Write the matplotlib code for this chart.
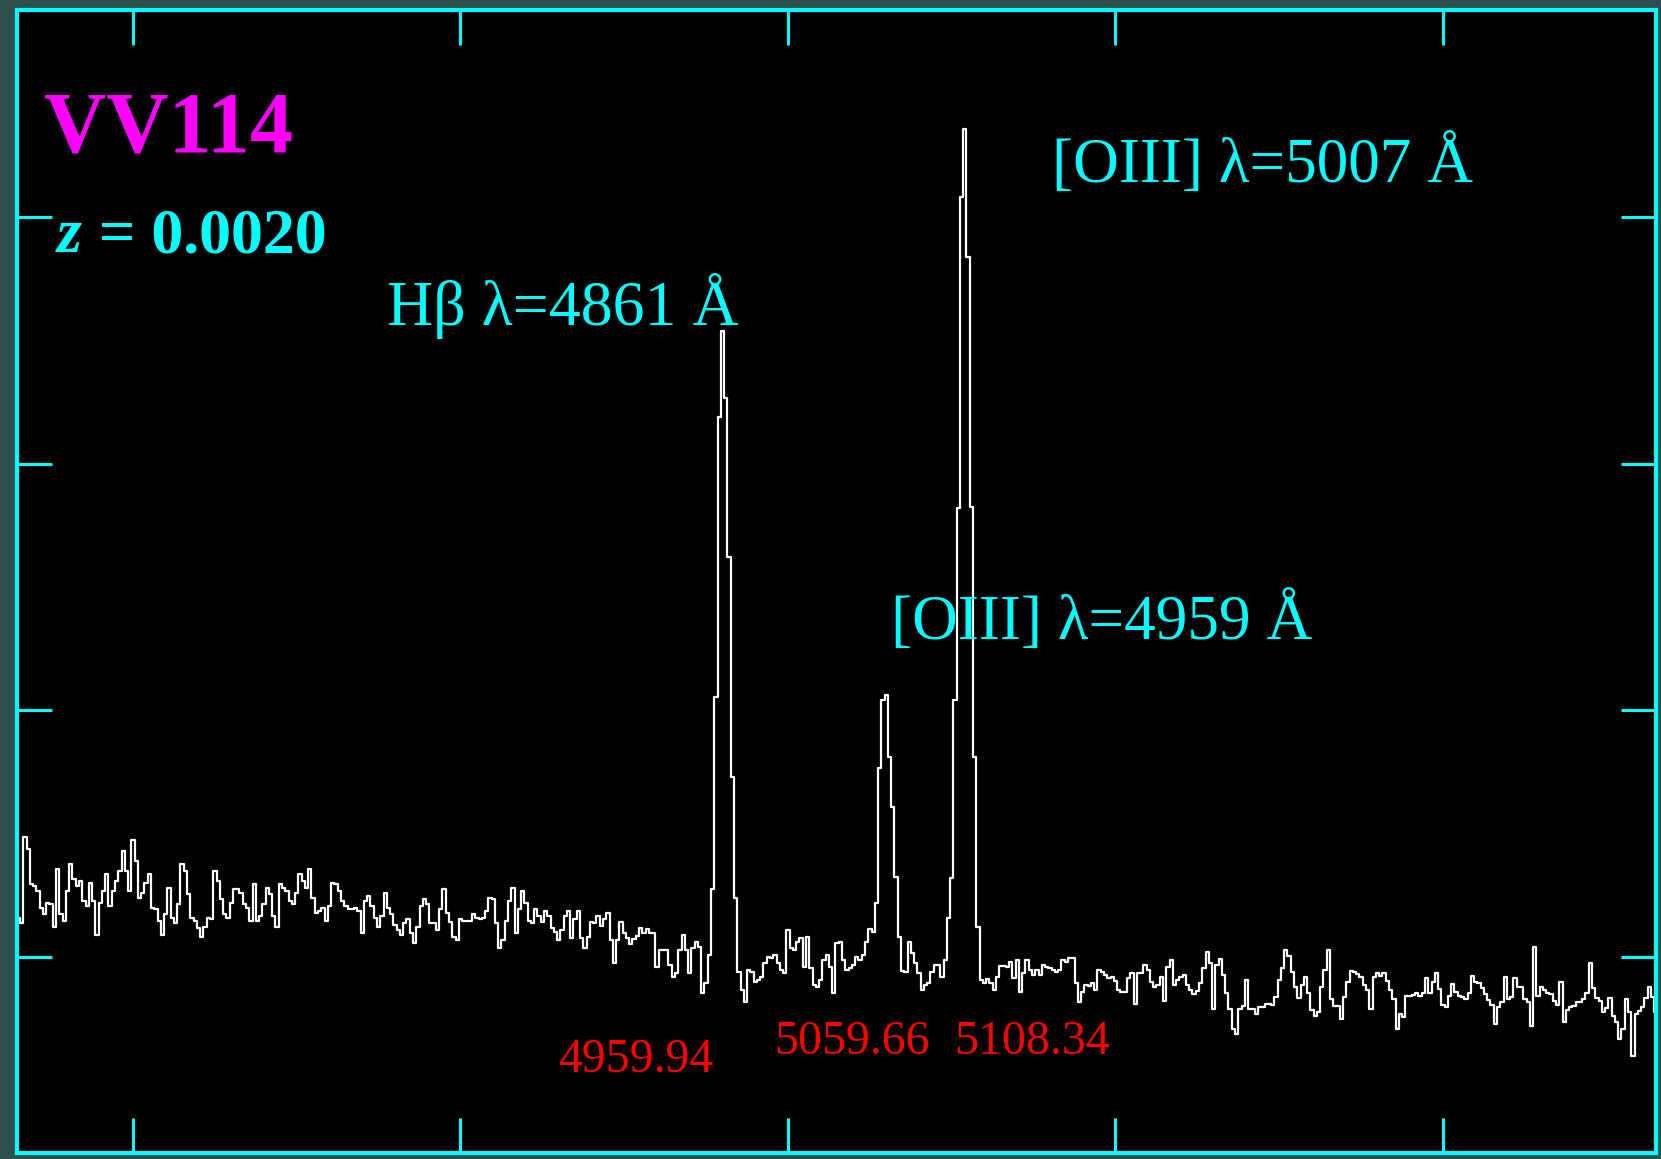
import numpy as np
import matplotlib.pyplot as plt

# dispersion solution of the extracted spectrum
wave_start = 4530.0   # Angstrom
wave_step = 2.0       # Angstrom per pixel

# flux (arbitrary units), split by spectral region
flux_blue = [
    40, 34, 122, 109, 74, 72, 67, 50, 44, 55,
    54, 30, 89, 44, 37, 67, 94, 79, 72, 77,
    57, 52, 75, 57, 22, 55, 67, 84, 52, 67,
    77, 87, 107, 87, 67, 119, 97, 60, 65, 75,
    84, 50, 49, 37, 22, 44, 70, 40, 34, 54,
    94, 87, 64, 40, 37, 29, 20, 30, 40, 39,
    87, 77, 59, 44, 40, 55, 69, 69, 65, 54,
    50, 37, 74, 37, 42, 54, 70, 64, 42, 30,
    74, 70, 67, 57, 54, 65, 84, 77, 70, 89,
    60, 45, 47, 50, 37, 52, 75, 74, 67, 57,
    52, 49, 49, 50, 47, 24, 57, 62, 52, 40,
    30, 42, 65, 50, 44, 32, 27, 22, 34, 39,
    24, 14, 30, 52, 59, 54, 34, 34, 27, 49,
    69, 45, 35, 20, 17, 39, 37, 37, 37, 44,
    40, 39, 40, 47, 60, 59, 34, 9, 17, 37,
    57, 70, 24, 49, 67, 55, 37, 34, 49, 42,
    35, 47, 42, 29, 25, 17, 27, 42, 47, 19,
    39, 47, 19, 9, 20, 35, 34, 42, 31, 39,
    45, 17, -6, 17, 35, 24, 19, 13, 18, 21,
    29, 24, 28, 24, 24, -10, 7, 7, 7, -8,
    -20, -16, 7, 22, 7, -16, 9, 15, 10, -36,
    -26, 2,
]
flux_hbeta = [69, 263, 547, 634, 567, 405, 182, 60]
flux_gap1 = [
    -15, -33, -46, -13, -15, -25, -23, -20, -6, 0,
    -1, 2, -6, -13, -16, 27, 9, 7, 15, 19,
    -10, 20, -11, -28, -30, -23, -3, 2, -10, -36,
    14, 15, -3, -13, -11, -8, 0, -3, 2, 15,
    28, 25,
]
flux_oiii_4959 = [55, 192, 260, 266, 203, 152, 81, 20]
flux_gap2 = [-14, -15, 15, 4, -6, -16, -33, -28, -26, -15, -8, -8, -20, -3, 40]
flux_oiii_5007 = [80, 260, 455, 770, 839, 709, 456, 203, 30]
flux_red = [
    -23, -26, -22, -26, -33, -20,
    -9, -9, -10, -5, -21, -3, -35, -16, -3, -13,
    -18, -13, -18, -8, -10, -11, -13, -15, -13, -3,
    -5, -1, -1, -26, -46, -35, -28, -29, -26, -33,
    -13, -15, -18, -21, -20, -24, -33, -35, -35, -21,
    -16, -48, -16, -16, -8, -13, -25, -30, -28, -20,
    -45, -10, -3, -28, -23, -20, -18, -28, -33, -37,
    -34, -26, -11,
    5, -6, -53, -8, -2, -18, -36,
    -53, -73, -78, -53, -50, -23, -53, -53, -58, -51,
    -51, -48, -48, -49, -41, -23, -11, 7, 1, -15,
    -30, -42, -28, -20, -36, -54, -60, -56, -30, -13,
    7, -43, -50, -50, -63, -41, -25, -14, -15, -17,
    -20, -28, -33, -53, -20, -16, -19, -16, -24, -33,
    -43, -73, -58, -61, -39, -39, -38, -36, -40, -36,
    -21, -36, -25, -16, -32, -49, -51, -39, -27, -35,
    -39, -41, -43, -36, -19, -25, -26, -31, -37, -44,
    -49, -68, -51, -46, -20, -43, -41, -21, -30, -30,
    -43, -46, -70, 10, -40, -30, -33, -36, -37, -45,
    -49, -25, -66, -54, -51, -50, -46, -46, -43, -36,
    -6, -31, -42, -45, -56, -52, -42, -60, -66, -83,
    -73, -43, -56, -100, -58, -55, -51, -42, -30, -41, -56,
]

flux = np.array(flux_blue + flux_hbeta + flux_gap1 + flux_oiii_4959
                + flux_gap2 + flux_oiii_5007 + flux_red, dtype=float)
wave = wave_start + wave_step * np.arange(flux.size)

galaxy = 'VV114'
redshift = '0.0020'
line_names = ['Hβ λ=4861 Å', '[OIII] λ=4959 Å', '[OIII] λ=5007 Å']
peak_waves = ['4959.94', '5059.66', '5108.34']

serif = ['Liberation Serif', 'DejaVu Serif']
cyan = '#00FFFF'

fig = plt.figure(figsize=(16.61, 11.59), dpi=100, facecolor='#2F4F4F')
ax = fig.add_axes([17 / 1661, 6 / 1159, 1639 / 1661, 1143 / 1159])
ax.set_facecolor('black')

ax.step(wave, flux, where='mid', color='white', lw=1.6)

ax.set_xlim(4529.16, 5530.08)
ax.set_ylim(-198.6, 959.7)
ax.set_xticks([4600, 4800, 5000, 5200, 5400])
ax.set_yticks([0, 250, 500, 750])
ax.tick_params(which='both', direction='in', length=25, width=2.2, color=cyan,
               top=True, right=True, labelleft=False, labelbottom=False)
for spine in ax.spines.values():
    spine.set_color(cyan)
    spine.set_linewidth(3)

ax.text(4545.6, 815.8, galaxy, color='#FF00FF', fontsize=62, fontweight='bold', family=serif)
ax.text(4553.6, 714.4, 'z', color=cyan, fontsize=46, fontweight='bold', style='italic', family=serif)
ax.text(4579.5, 714.4, '= ' + redshift, color=cyan, fontsize=46, fontweight='bold', family=serif)

ax.text(4755.1, 640.5, line_names[0], color=cyan, fontsize=46, family=serif)
ax.text(5063.0, 322.3, line_names[1], color=cyan, fontsize=45.5, family=serif)
ax.text(5161.5, 785.4, line_names[2], color=cyan, fontsize=45.5, family=serif)

ax.text(4859.5, -116.5, peak_waves[0], color='#FF0000', fontsize=34.5, family=serif)
ax.text(4991.5, -98.3, peak_waves[1], color='#FF0000', fontsize=34.5, family=serif)
ax.text(5101.5, -98.3, peak_waves[2], color='#FF0000', fontsize=34.5, family=serif)

fig.savefig('out.png', dpi=100, facecolor=fig.get_facecolor())
